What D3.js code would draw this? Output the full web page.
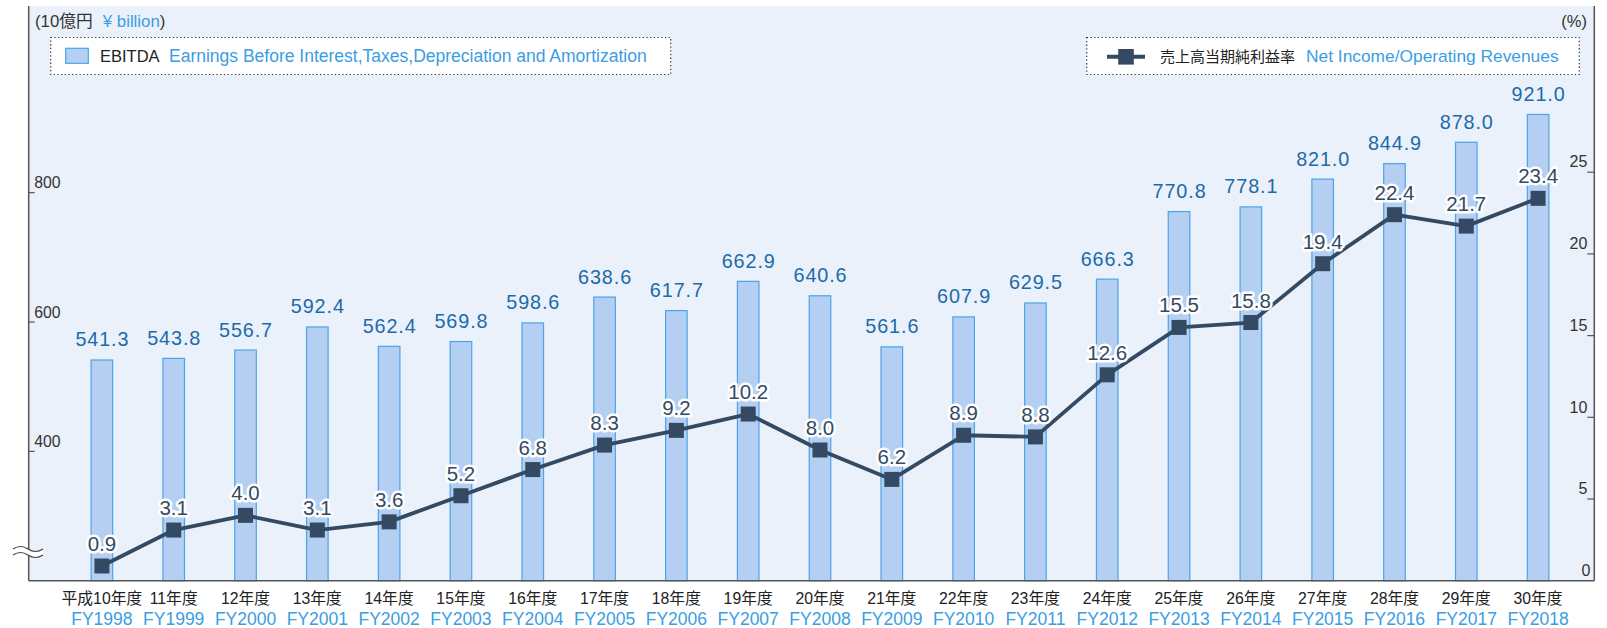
<!DOCTYPE html>
<html>
<head>
<meta charset="utf-8">
<script src="https://cdn.jsdelivr.net/npm/d3@7"></script>
<style>
  html, body { margin: 0; padding: 0; background: #ffffff; }
  svg { display: block; font-family: "Liberation Sans", Arial, "Noto Sans CJK JP", sans-serif; }
</style>
</head>
<body>
<svg id="chart" width="1607" height="628"></svg>
<script>
// Fiscal years (Japanese era label + western fiscal year)
const yearsJa = ["平成10年度", "11年度", "12年度", "13年度", "14年度", "15年度", "16年度",
  "17年度", "18年度", "19年度", "20年度", "21年度", "22年度", "23年度", "24年度",
  "25年度", "26年度", "27年度", "28年度", "29年度", "30年度"];
const yearsFy = ["FY1998", "FY1999", "FY2000", "FY2001", "FY2002", "FY2003", "FY2004",
  "FY2005", "FY2006", "FY2007", "FY2008", "FY2009", "FY2010", "FY2011", "FY2012",
  "FY2013", "FY2014", "FY2015", "FY2016", "FY2017", "FY2018"];

// EBITDA (¥ billion)
const ebitda = [541.3, 543.8, 556.7, 592.4, 562.4, 569.8, 598.6, 638.6, 617.7, 662.9,
  640.6, 561.6, 607.9, 629.5, 666.3, 770.8, 778.1, 821.0, 844.9, 878.0, 921.0];

// Net income / operating revenues (%)
const netMargin = [0.9, 3.1, 4.0, 3.1, 3.6, 5.2, 6.8, 8.3, 9.2, 10.2, 8.0, 6.2, 8.9,
  8.8, 12.6, 15.5, 15.8, 19.4, 22.4, 21.7, 23.4];

// Axis ticks
const leftTicks = [400, 600, 800];
const rightTicks = [0, 5, 10, 15, 20, 25];

const C = {
  panel: "#eaf1fa",
  axis: "#555555",
  barFill: "#b5cff3",
  barStroke: "#4ba4e8",
  barLabel: "#1c6aa9",
  line: "#344a63",
  dark: "#222222",
  blue: "#3b9de3"
};

const svg = d3.select("#chart");

const plotLeft = 28.7, plotRight = 1594.3, plotTop = 6, plotBottom = 580.7;

const x = d3.scaleBand()
  .domain(d3.range(yearsFy.length))
  .range([66, 1574])
  .paddingInner(0.7)
  .paddingOuter(0.35);

// Left axis starts at 200 (axis is broken below)
const yL = d3.scaleLinear().domain([200, 800]).range([plotBottom, 192.7]);
const yR = d3.scaleLinear().domain([0, 25]).range([plotBottom, 172.2]);

// plot panel
svg.append("rect")
  .attr("x", plotLeft).attr("y", plotTop)
  .attr("width", plotRight - plotLeft).attr("height", plotBottom - plotTop)
  .attr("fill", C.panel);

// bars
const cx = i => x(i) + x.bandwidth() / 2;
svg.append("g").selectAll("rect")
  .data(ebitda)
  .join("rect")
  .attr("x", (d, i) => x(i))
  .attr("y", d => yL(d))
  .attr("width", x.bandwidth())
  .attr("height", d => plotBottom - yL(d))
  .attr("fill", C.barFill)
  .attr("stroke", C.barStroke)
  .attr("stroke-width", 1.2);

// bar value labels
svg.append("g").selectAll("text")
  .data(ebitda)
  .join("text")
  .attr("x", (d, i) => cx(i) + 0.5)
  .attr("y", d => yL(d) - 13.5)
  .attr("text-anchor", "middle")
  .attr("font-size", 19.8)
  .attr("letter-spacing", 0.9)
  .attr("fill", C.barLabel)
  .text(d => d.toFixed(1));

// axes lines
const axisG = svg.append("g").attr("stroke", C.axis).attr("stroke-width", 1.5);
axisG.append("line").attr("x1", plotLeft).attr("x2", plotLeft).attr("y1", plotTop).attr("y2", plotBottom);
axisG.append("line").attr("x1", plotRight).attr("x2", plotRight).attr("y1", plotTop).attr("y2", plotBottom);
axisG.append("line").attr("x1", plotLeft).attr("x2", plotRight).attr("y1", plotBottom).attr("y2", plotBottom);

// left ticks
const lt = svg.append("g");
lt.selectAll("line").data(leftTicks).join("line")
  .attr("x1", plotLeft).attr("x2", plotLeft + 6)
  .attr("y1", d => yL(d)).attr("y2", d => yL(d))
  .attr("stroke", C.axis).attr("stroke-width", 1.2);
lt.selectAll("text").data(leftTicks).join("text")
  .attr("x", plotLeft + 5.5).attr("y", d => yL(d) - 4.5)
  .attr("font-size", 15.8).attr("fill", "#333")
  .text(d => d);

// right ticks
const rt = svg.append("g");
rt.selectAll("line").data(rightTicks.filter(d => d > 0)).join("line")
  .attr("x1", plotRight - 7).attr("x2", plotRight)
  .attr("y1", d => yR(d)).attr("y2", d => yR(d))
  .attr("stroke", C.axis).attr("stroke-width", 1.2);
rt.selectAll("text").data(rightTicks).join("text")
  .attr("x", d => d === 0 ? plotRight - 4 : plotRight - 7)
  .attr("y", d => yR(d) - 4.8)
  .attr("text-anchor", "end")
  .attr("font-size", 16).attr("fill", "#333")
  .text(d => d);

// axis break mark on the left axis
const wave = (y0) => `M13,${y0} q7.5,-5 15,0 t15,0`;
const brk = svg.append("g");
brk.append("path")
  .attr("d", `M13,549 q7.5,-5 15,0 t15,0 L43,555 q-7.5,5 -15,0 t-15,0 Z`)
  .attr("fill", "#ffffff");
brk.append("path").attr("d", wave(549)).attr("fill", "none").attr("stroke", "#444").attr("stroke-width", 1.2);
brk.append("path").attr("d", wave(555)).attr("fill", "none").attr("stroke", "#444").attr("stroke-width", 1.2);

// net margin line
const line = d3.line().x((d, i) => cx(i)).y(d => yR(d));
svg.append("path")
  .datum(netMargin)
  .attr("d", line)
  .attr("fill", "none")
  .attr("stroke", C.line)
  .attr("stroke-width", 3.8)
  .attr("stroke-linejoin", "round");

// markers
const ms = 15;
svg.append("g").selectAll("rect")
  .data(netMargin)
  .join("rect")
  .attr("x", (d, i) => cx(i) - ms / 2)
  .attr("y", d => yR(d) - ms / 2)
  .attr("width", ms).attr("height", ms)
  .attr("fill", C.line);

// line value labels with white halo
svg.append("g").selectAll("text")
  .data(netMargin)
  .join("text")
  .attr("x", (d, i) => cx(i))
  .attr("y", d => yR(d) - 15)
  .attr("text-anchor", "middle")
  .attr("font-size", 20.5)
  .attr("fill", C.line)
  .attr("stroke", "#ffffff")
  .attr("stroke-width", 5)
  .attr("stroke-linejoin", "round")
  .attr("paint-order", "stroke")
  .text(d => d.toFixed(1));

// x labels
const xl = svg.append("g");
xl.selectAll("text.ja").data(yearsJa).join("text")
  .attr("class", "ja")
  .attr("x", (d, i) => cx(i))
  .attr("y", 603.5)
  .attr("text-anchor", "middle")
  .attr("font-size", 15.8)
  .attr("fill", C.dark)
  .text(d => d);
xl.selectAll("text.fy").data(yearsFy).join("text")
  .attr("class", "fy")
  .attr("x", (d, i) => cx(i))
  .attr("y", 624.5)
  .attr("text-anchor", "middle")
  .attr("font-size", 17.5)
  .attr("fill", C.blue)
  .text(d => d);

// unit captions
const unitL = svg.append("text").attr("x", 35).attr("y", 26.5).attr("font-size", 16.8);
unitL.append("tspan").attr("fill", "#333").text("(10億円");
unitL.append("tspan").attr("fill", C.blue).attr("dx", 10).text("¥ billion");
unitL.append("tspan").attr("fill", "#333").text(")");

svg.append("text").attr("x", 1587).attr("y", 26.5)
  .attr("text-anchor", "end").attr("font-size", 16.5).attr("fill", "#333")
  .text("(%)");

// legends
function legendBox(x0, x1) {
  svg.append("rect")
    .attr("x", x0).attr("y", 37.5)
    .attr("width", x1 - x0).attr("height", 37)
    .attr("fill", "#ffffff")
    .attr("stroke", "#333")
    .attr("stroke-width", 1.2)
    .attr("stroke-dasharray", "1.3,2.4");
}

legendBox(50.7, 670.7);
svg.append("rect")
  .attr("x", 65.7).attr("y", 48.3).attr("width", 22.6).attr("height", 15)
  .attr("fill", C.barFill).attr("stroke", C.barStroke).attr("stroke-width", 1.2);
svg.append("text").attr("x", 100).attr("y", 62).attr("font-size", 16.5).attr("fill", C.dark)
  .text("EBITDA");
svg.append("text").attr("x", 169).attr("y", 62).attr("font-size", 17.5).attr("fill", C.blue)
  .text("Earnings Before Interest,Taxes,Depreciation and Amortization");

legendBox(1086.7, 1579.3);
svg.append("line")
  .attr("x1", 1107).attr("x2", 1145).attr("y1", 56.8).attr("y2", 56.8)
  .attr("stroke", C.line).attr("stroke-width", 4);
svg.append("rect")
  .attr("x", 1126 - 7.8).attr("y", 56.8 - 7.8).attr("width", 15.6).attr("height", 15.6)
  .attr("fill", C.line);
svg.append("text").attr("x", 1160).attr("y", 62).attr("font-size", 15).attr("fill", C.dark)
  .text("売上高当期純利益率");
svg.append("text").attr("x", 1306).attr("y", 62).attr("font-size", 17.35).attr("fill", C.blue)
  .text("Net Income/Operating Revenues");
</script>
</body>
</html>
